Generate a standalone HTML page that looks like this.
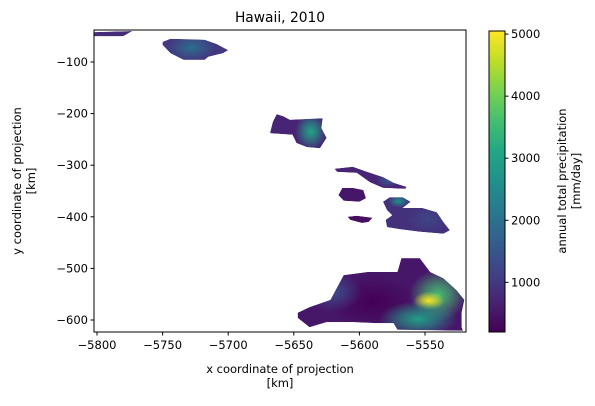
<!DOCTYPE html>
<html><head><meta charset="utf-8"><style>
body{margin:0;background:#fff;font-family:"Liberation Sans","DejaVu Sans",sans-serif}
svg text{font-family:"DejaVu Sans","Liberation Sans",sans-serif;fill:#000}
</style></head><body>
<svg id="chart" width="595" height="401" xmlns="http://www.w3.org/2000/svg"></svg>
<script>
const xTicks=[-5800,-5750,-5700,-5650,-5600,-5550];
const yTicks=[-100,-200,-300,-400,-500,-600];
const cbTicks=[1000,2000,3000,4000,5000];
const islandNames=["niihau","kauai","oahu","molokai","lanai","kahoolawe","maui","big-island"];
const islandBase=[800,1000,700,700,500,400,900,500];
const islandShapes=[
[[-5802,-42],[-5773,-40],[-5780,-50],[-5802,-50]],
[[-5750,-61],[-5744,-55],[-5718,-57],[-5709,-65],[-5700,-77],[-5704,-83],[-5715,-90],[-5718,-96],[-5734,-96],[-5744,-83],[-5750,-67]],
[[-5668,-236],[-5666,-216],[-5663,-201],[-5658,-205],[-5653,-212],[-5628,-209],[-5629,-228],[-5625,-247],[-5630,-267],[-5640,-265],[-5648,-257],[-5651,-241],[-5668,-238]],
[[-5619,-307],[-5605,-303],[-5594,-313],[-5582,-323],[-5574,-334],[-5564,-342],[-5565,-346],[-5582,-344],[-5592,-333],[-5602,-315],[-5617,-313]],
[[-5616,-358],[-5613,-344],[-5605,-344],[-5597,-348],[-5595,-364],[-5600,-371],[-5612,-369]],
[[-5609,-400],[-5602,-398],[-5590,-402],[-5593,-410],[-5598,-412],[-5607,-406]],
[[-5582,-371],[-5577,-362],[-5567,-362],[-5561,-371],[-5567,-383],[-5552,-383],[-5541,-391],[-5536,-410],[-5531,-426],[-5536,-433],[-5554,-429],[-5569,-424],[-5579,-420],[-5580,-406],[-5575,-397],[-5579,-387]],
[[-5647,-586],[-5638,-575],[-5622,-561],[-5612,-513],[-5594,-507],[-5571,-507],[-5568,-480],[-5554,-480],[-5546,-507],[-5536,-519],[-5526,-542],[-5520,-561],[-5522,-585],[-5522,-614],[-5521,-621],[-5571,-619],[-5574,-606],[-5587,-606],[-5605,-604],[-5625,-604],[-5638,-614],[-5647,-596]]
];
const hotIsland=[1,2,3,6,6,7,7,7,7,7];
const hotX=[-5728,-5637,-5578,-5570,-5548,-5590,-5540,-5547,-5555,-5620];
const hotY=[-72,-235,-330,-370,-405,-565,-552,-563,-598,-545];
const hotVal=[1900,3000,1500,2600,1200,120,3600,5000,2900,1300];
const hotRx=[18,12,10,8,16,35,22,12,30,22];
const hotRy=[25,35,14,12,25,50,50,18,35,40];

const X0=94,X1=466,Y0=30,Y1=332;
const sx=v=>97+(v+5800)*1.312;
const sy=v=>62+(-100-v)*0.516;
const vmin=200,vmax=5050,CB0=31,CB1=332;
const cby=v=>CB1-(v-vmin)/(vmax-vmin)*(CB1-CB0);
const vir=[[68,1,84],[72,35,116],[64,67,135],[52,94,141],[41,120,142],[32,144,140],[34,167,132],[68,190,112],[121,209,81],[189,222,38],[253,231,37]];
function col(v){let t=Math.max(0,Math.min(1,(v-vmin)/(vmax-vmin)))*10;const i=Math.min(9,Math.floor(t)),f=t-i;const a=vir[i],b=vir[i+1];return `rgb(${a.map((c,k)=>Math.round(c+(b[k]-c)*f)).join(',')})`;}
const NS="http://www.w3.org/2000/svg";
const svg=document.getElementById('chart');
function mk(t,a,p){const e=document.createElementNS(NS,t);for(const k in a)e.setAttribute(k,a[k]);(p||svg).appendChild(e);return e;}
const defs=mk('defs',{});
const lg=mk('linearGradient',{id:'cbg',x1:0,y1:1,x2:0,y2:0},defs);
vir.forEach((c,i)=>mk('stop',{offset:i/10,'stop-color':`rgb(${c})`},lg));
const plotClip=mk('clipPath',{id:'pc'},defs);mk('rect',{x:X0,y:Y0,width:X1-X0,height:Y1-Y0},plotClip);
const plot=mk('g',{'clip-path':'url(#pc)'});


islandShapes.forEach((pts,i)=>{
  const d=pts.map(p=>sx(p[0]).toFixed(1)+','+sy(p[1]).toFixed(1)).join(' ');
  const cp=mk('clipPath',{id:'ic'+i},defs);mk('polygon',{points:d},cp);
  const g=mk('g',{'clip-path':'url(#ic'+i+')'},plot);
  
  
  mk('polygon',{points:d,fill:col(islandBase[i])},g);
  hotX.forEach((hx,j)=>{
    if(hotIsland[j]!==i)return;
    const rg=mk('radialGradient',{id:'hg'+j},defs);
    mk('stop',{offset:0,'stop-color':col(hotVal[j]),'stop-opacity':1},rg);
    mk('stop',{offset:0.45,'stop-color':col(hotVal[j]),'stop-opacity':0.6},rg);
    mk('stop',{offset:1,'stop-color':col(hotVal[j]),'stop-opacity':0},rg);
    const e=mk('ellipse',{cx:sx(hx),cy:sy(hotY[j]),rx:hotRx[j]*1.312,ry:hotRy[j]*0.516,fill:'url(#hg'+j+')'},g);
    
    
  });
});
const frame=mk('rect',{x:X0,y:Y0,width:X1-X0,height:Y1-Y0,fill:'none',stroke:'#000','stroke-width':1});


xTicks.forEach(v=>{const x=sx(v);mk('line',{x1:x,x2:x,y1:Y1,y2:Y1+3.5,stroke:'#000'});
  const t=mk('text',{x:x,y:Y1+17,'text-anchor':'middle','font-size':11.5});t.textContent='\u2212'+Math.abs(v);
  
  });
yTicks.forEach(v=>{const y=sy(v);mk('line',{x1:X0,x2:X0-3.5,y1:y,y2:y,stroke:'#000'});
  const t=mk('text',{x:X0-6,y:y+4,'text-anchor':'end','font-size':11.5});t.textContent='\u2212'+Math.abs(v);
  
  });
const cb=mk('rect',{x:489,y:CB0,width:16,height:CB1-CB0,fill:'url(#cbg)',stroke:'#000','stroke-width':1});


cbTicks.forEach(v=>{const y=cby(v);mk('line',{x1:505,x2:508.5,y1:y,y2:y,stroke:'#000'});
  const t=mk('text',{x:511,y:y+4,'font-size':11.5});t.textContent=v;
  
  });
function txt(s,a,name){const t=mk('text',a);t.textContent=s;return t;}
txt('Hawaii, 2010',{x:280,y:22,'text-anchor':'middle','font-size':13.8},'chart-title');
txt('x coordinate of projection',{x:280,y:373,'text-anchor':'middle','font-size':11.5},'x-axis-title');
txt('[km]',{x:280,y:387,'text-anchor':'middle','font-size':11.5},'x-axis-unit');
txt('y coordinate of projection',{x:0,y:0,'text-anchor':'middle','font-size':11.5,transform:'translate(21,181) rotate(-90)'},'y-axis-title');
txt('[km]',{x:0,y:0,'text-anchor':'middle','font-size':11.5,transform:'translate(35,181) rotate(-90)'},'y-axis-unit');
txt('annual total precipitation',{x:0,y:0,'text-anchor':'middle','font-size':11.5,transform:'translate(566,181) rotate(-90)'},'colorbar-title');
txt('[mm/day]',{x:0,y:0,'text-anchor':'middle','font-size':11.5,transform:'translate(580,181) rotate(-90)'},'colorbar-unit');
</script>
</body></html>
